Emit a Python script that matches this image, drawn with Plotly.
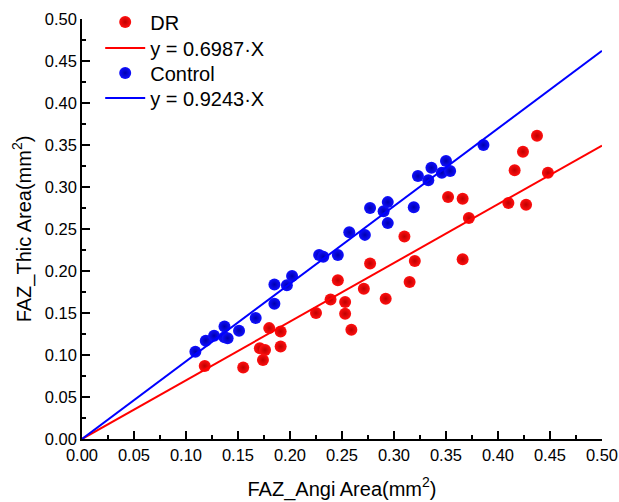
import numpy as np
import plotly.graph_objects as go

dr_x = [0.118, 0.155, 0.171, 0.176, 0.174, 0.180, 0.191, 0.191, 0.225, 0.239,
        0.246, 0.253, 0.253, 0.259, 0.271, 0.277, 0.292, 0.310, 0.315, 0.320,
        0.352, 0.366, 0.366, 0.372, 0.410, 0.416, 0.424, 0.427, 0.4375, 0.448]
dr_y = [0.087, 0.085, 0.108, 0.106, 0.094, 0.132, 0.128, 0.110, 0.150, 0.166,
        0.189, 0.163, 0.149, 0.130, 0.179, 0.209, 0.167, 0.241, 0.187, 0.212,
        0.288, 0.286, 0.214, 0.263, 0.281, 0.320, 0.342, 0.279, 0.361, 0.317]

ctrl_x = [0.109, 0.119, 0.127, 0.137, 0.137, 0.140, 0.151, 0.167, 0.185, 0.185,
          0.197, 0.202, 0.228, 0.232, 0.246, 0.257, 0.272, 0.277, 0.290, 0.294,
          0.294, 0.319, 0.323, 0.333, 0.336, 0.346, 0.350, 0.354, 0.386]
ctrl_y = [0.104, 0.117, 0.123, 0.134, 0.121, 0.120, 0.129, 0.144, 0.161, 0.184,
          0.183, 0.194, 0.219, 0.217, 0.219, 0.246, 0.243, 0.275, 0.271, 0.282,
          0.257, 0.276, 0.313, 0.308, 0.323, 0.317, 0.331, 0.319, 0.350]

dr_slope = 0.6987
ctrl_slope = 0.9243
fit_x = [0.0, 0.5]

FONT = "Liberation Sans, Arial, sans-serif"
W, H = 619, 502

fig = go.Figure()
fig.add_trace(go.Scatter(
    x=dr_x, y=dr_y, mode="markers", name="DR", legend="legend",
    marker=dict(color="#ff1010", size=12,
                gradient=dict(type="radial", color="#c00000"),
                line=dict(width=0)),
))
fig.add_trace(go.Scatter(
    x=fit_x, y=[dr_slope * v for v in fit_x], mode="lines", legend="legend2",
    name="y = 0.6987·X", line=dict(color="#ff0000", width=2),
))
fig.add_trace(go.Scatter(
    x=ctrl_x, y=ctrl_y, mode="markers", name="Control", legend="legend3",
    marker=dict(color="#1010ff", size=12,
                gradient=dict(type="radial", color="#0000b0"),
                line=dict(width=0)),
))
fig.add_trace(go.Scatter(
    x=fit_x, y=[ctrl_slope * v for v in fit_x], mode="lines", legend="legend4",
    name="y = 0.9243·X", line=dict(color="#0000ff", width=2),
))

axis_common = dict(
    range=[0, 0.5], dtick=0.05, tick0=0, tickformat=".2f",
    ticks="inside", ticklen=8, tickwidth=1.5, tickcolor="black",
    showline=True, linecolor="black", linewidth=1.5,
    showgrid=False, zeroline=False, mirror=False, automargin=False,
    tickfont=dict(family=FONT, size=16.5, color="black"),
    minor=dict(ticks="inside", ticklen=4, tickwidth=1.5, tickcolor="black", dtick=0.025),
)


def leg(ycenter):
    return dict(x=0.035, y=1 - ycenter / H, xref="paper", yref="container",
                xanchor="left", yanchor="middle",
                bgcolor="rgba(0,0,0,0)", font=dict(family=FONT, size=20),
                itemwidth=40)


fig.update_layout(
    width=W, height=H,
    margin=dict(l=82, r=17, t=19, b=63, autoexpand=False),
    paper_bgcolor="white", plot_bgcolor="white",
    font=dict(family=FONT, color="black"),
    xaxis=dict(axis_common, title=dict(text="FAZ_Angi Area(mm<sup>2</sup>)",
                                      font=dict(family=FONT, size=20), standoff=19)),
    yaxis=dict(axis_common, title=dict(text="FAZ_Thic Area(mm<sup>2</sup>)",
                                      font=dict(family=FONT, size=20), standoff=8)),
    legend=leg(22), legend2=leg(48), legend3=leg(73), legend4=leg(98),
    showlegend=True,
)

fig.write_html("out.html", config={"displayModeBar": False},
               post_script="document.body.style.margin='0';document.body.style.overflow='hidden';")
